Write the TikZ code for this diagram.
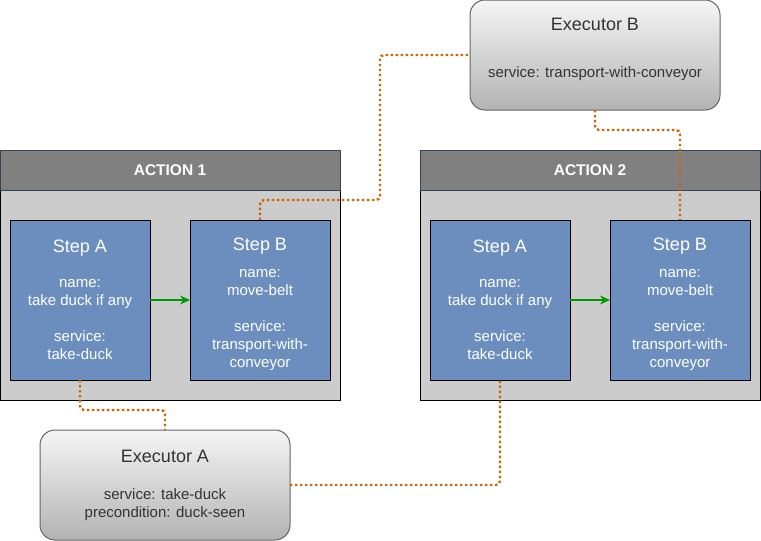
\documentclass[tikz,border=0pt]{standalone}
\usepackage{fontspec}
\setmainfont{Liberation Sans}
\usetikzlibrary{positioning, arrows.meta}
\definecolor{actionGray}{HTML}{CCCCCC}
\definecolor{headerGray}{HTML}{808080}
\definecolor{headerLine}{HTML}{314354}
\definecolor{stepBlue}{HTML}{6C8EBF}
\definecolor{execTop}{HTML}{F5F5F5}
\definecolor{execBottom}{HTML}{B3B3B3}
\definecolor{execLine}{HTML}{666666}
\definecolor{execText}{HTML}{333333}
\definecolor{linkOrange}{HTML}{CC6600}
\definecolor{flowGreen}{HTML}{009900}
\newcommand{\boxtitle}[1]{{\fontsize{18}{18}\selectfont #1}}

\begin{document}
\begin{tikzpicture}[
    x=1pt, y=-1pt,
    font=\fontsize{15}{18}\selectfont,
    every node/.style={outer sep=0pt},
    action/.style={draw=black, line width=1pt, fill=actionGray, minimum width=340pt, minimum height=250pt, inner sep=0pt},
    header/.style={draw=headerLine, line width=1pt, fill=headerGray, text=white, font=\fontsize{15.5}{18}\selectfont\bfseries, minimum width=340pt, minimum height=40pt, anchor=north},
    stepbox/.style={draw=black, line width=1pt, fill=stepBlue, text=white, minimum width=140pt, minimum height=160pt, align=center, inner sep=0pt},
    executor/.style={draw=execLine, line width=1pt, rounded corners=15pt, top color=execTop, bottom color=execBottom, text=execText, minimum width=250pt, minimum height=110pt, align=center},
    link/.style={draw=linkOrange, line width=2.4pt, dash pattern=on 2.4pt off 2.6pt, rounded corners=4pt},
    flow/.style={draw=flowGreen, line width=1.5pt, -{Stealth[length=10pt,width=9pt]}}
]
    \useasboundingbox (0,0) rectangle (761,541);

    % actions
    \node[action] (act1) at (170,275) {};
    \node[header] (hd1) at (act1.north) {ACTION 1};
    \node[action, right=80pt of act1] (act2) {};
    \node[header] (hd2) at (act2.north) {ACTION 2};

    % steps
    \node[stepbox] (s1a) at (80,300) {\boxtitle{Step A}\\[17pt] name:\\ take duck if any\\[18pt] service:\\ take-duck};
    \node[stepbox, right=40pt of s1a] (s1b) {\boxtitle{\rule{0pt}{21pt}Step B}\\[9pt] name:\\ move-belt\\[18pt] service:\\ transport-with-\\ conveyor};
    \node[stepbox] (s2a) at (500,300) {\boxtitle{Step A}\\[17pt] name:\\ take duck if any\\[18pt] service:\\ take-duck};
    \node[stepbox, right=40pt of s2a] (s2b) {\boxtitle{\rule{0pt}{21pt}Step B}\\[9pt] name:\\ move-belt\\[18pt] service:\\ transport-with-\\ conveyor};

    % executors
    \node[executor, text depth=15pt] (exB) at (595,55) {\boxtitle{Executor B}\\[29pt] service: transport-with-conveyor};
    \node[executor] (exA) at (165,485) {\boxtitle{Executor A}\\[19pt] service: take-duck\\ precondition: duck-seen};

    \draw[flow] (s1a) -- (s1b);
    \draw[flow] (s2a) -- (s2b);

    \draw[link] (s1b.north) -- ++(0,-20) -- ++(120,0) |- (exB.west);
    \draw[link] (exB.south) -- ++(0,20) -| (s2b.north);
    \draw[link] (s1a.south) -- ++(0,30) -| (exA.north);
    \draw[link] (exA.east) -| (s2a.south);
\end{tikzpicture}
\end{document}
